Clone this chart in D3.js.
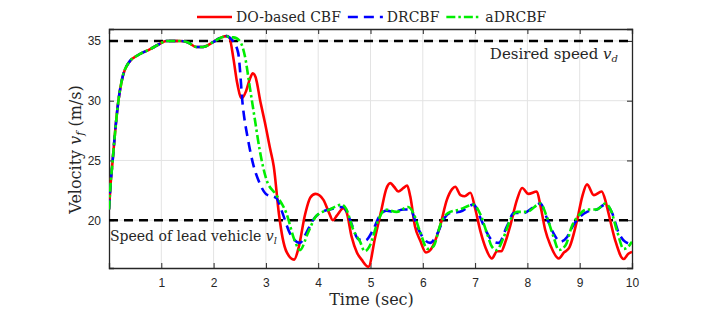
<!DOCTYPE html>
<html>
<head>
<meta charset="utf-8">
<script src="https://cdn.jsdelivr.net/npm/d3@7"></script>
<style>
  body { margin: 0; background: #fff; }
  .tick text { font-family: "Liberation Sans", Arial, sans-serif; font-size: 12px; fill: #262626; }
  .serif { font-family: "DejaVu Serif", serif; fill: #262626; }
</style>
</head>
<body>
<svg id="chart"></svg>
<script>
// shared start (all three controllers behave the same until ~2.3 s)
var startT = [0, 0.03, 0.07, 0.13, 0.18, 0.25, 0.38, 0.55, 0.78, 0.95, 1.1, 1.35, 1.5, 1.67, 1.8, 1.99, 2.15, 2.25, 2.3];
var startV = [20.9, 23.0, 25.0, 28.0, 30.0, 31.8, 33.2, 33.8, 34.3, 34.7, 35.0, 35.0, 34.9, 34.5, 34.5, 34.9, 35.3, 35.4, 35.3];

// DO-based CBF
var doT = [2.38, 2.45, 2.54, 2.62, 2.7, 2.75, 2.8, 2.9, 2.98, 3.08, 3.15, 3.25, 3.32, 3.4, 3.54, 3.62, 3.75, 3.85, 3.95, 4.1, 4.2, 4.28, 4.36, 4.48, 4.54, 4.64, 4.74, 4.83, 4.96, 5.09, 5.21, 5.3, 5.38, 5.45, 5.53, 5.63, 5.7, 5.76, 5.85, 5.95, 6.06, 6.12, 6.2, 6.33, 6.46, 6.56, 6.62, 6.72, 6.8, 6.91, 7.0, 7.1, 7.2, 7.32, 7.42, 7.5, 7.58, 7.67, 7.8, 7.9, 8.02, 8.18, 8.25, 8.34, 8.44, 8.6, 8.7, 8.8, 8.95, 9.05, 9.14, 9.27, 9.42, 9.5, 9.55, 9.68, 9.84, 9.93, 10];
var doV = [33.5, 31.5, 30.2, 30.8, 31.9, 32.3, 32.0, 29.8, 28.2, 26.0, 24.5, 20.5, 18.5, 17.3, 16.7, 17.6, 20.5, 21.9, 22.2, 21.7, 20.7, 20.0, 20.4, 21.0, 20.7, 18.6, 17.3, 16.7, 16.1, 18.6, 20.9, 22.6, 23.1, 22.8, 22.4, 22.7, 22.9, 22.0, 19.5, 18.3, 17.3, 17.4, 17.9, 19.5, 21.7, 22.6, 22.8, 22.1, 22.0, 22.3, 21.0, 19.1, 17.7, 16.8, 17.4, 17.4, 18.2, 19.5, 21.7, 22.7, 22.2, 22.4, 21.2, 19.2, 17.9, 16.8, 17.3, 17.7, 20.0, 22.0, 23.0, 22.1, 22.4, 21.5, 20.6, 18.3, 16.75, 17.2, 17.35];

// DRCBF
var drT = [2.37, 2.47, 2.56, 2.66, 2.75, 2.88, 3.0, 3.2, 3.3, 3.46, 3.65, 3.78, 3.9, 4.03, 4.22, 4.48, 4.61, 4.77, 4.9, 5.05, 5.18, 5.31, 5.44, 5.63, 5.76, 5.89, 6.01, 6.14, 6.27, 6.39, 6.52, 6.71, 6.97, 7.1, 7.22, 7.35, 7.45, 7.61, 7.74, 7.93, 8.12, 8.25, 8.37, 8.5, 8.63, 8.76, 8.88, 9.01, 9.14, 9.33, 9.49, 9.62, 9.74, 9.87, 10];
var drV = [35.0, 34.0, 29.5, 26.7, 24.8, 23.1, 22.2, 21.85, 20.8, 18.9, 18.1, 19.0, 20.0, 20.6, 20.9, 21.1, 20.0, 18.4, 18.3, 19.2, 20.4, 20.8, 20.7, 20.9, 20.9, 19.5, 18.5, 18.1, 18.8, 20.0, 20.6, 20.7, 21.3, 20.2, 19.0, 18.2, 18.1, 19.5, 20.6, 20.6, 21.1, 21.4, 20.2, 18.9, 18.2, 18.6, 19.6, 20.3, 20.7, 20.9, 21.3, 20.6, 19.0, 18.2, 18.0];

// aDRCBF
var adT = [2.38, 2.5, 2.6, 2.69, 2.79, 2.88, 3.01, 3.2, 3.39, 3.55, 3.65, 3.81, 3.97, 4.22, 4.45, 4.54, 4.67, 4.8, 4.89, 4.99, 5.15, 5.28, 5.5, 5.72, 5.82, 5.95, 6.09, 6.2, 6.35, 6.48, 6.71, 6.97, 7.1, 7.22, 7.32, 7.41, 7.54, 7.67, 7.8, 7.99, 8.25, 8.37, 8.5, 8.6, 8.73, 8.85, 8.98, 9.14, 9.33, 9.49, 9.59, 9.72, 9.84, 9.93, 10];
var adV = [35.3, 35.0, 33.7, 31.2, 28.4, 25.9, 23.4, 22.1, 20.6, 18.3, 17.5, 19.0, 20.4, 20.9, 21.3, 20.9, 19.2, 18.2, 17.4, 17.9, 20.0, 20.9, 20.7, 21.1, 20.6, 19.0, 17.6, 17.8, 19.8, 20.6, 20.9, 21.3, 20.5, 19.0, 17.8, 17.5, 18.5, 20.0, 20.7, 20.7, 21.4, 20.3, 18.6, 17.5, 17.9, 19.5, 20.4, 20.9, 20.9, 21.4, 20.9, 19.0, 17.6, 17.8, 18.2];

var xTicks = [1, 2, 3, 4, 5, 6, 7, 8, 9, 10];
var yTicks = [20, 25, 30, 35];
var desiredSpeed = 35, leadSpeed = 20;

var seriesNames = ["DO-based CBF", "DRCBF", "aDRCBF"];

function pairs(t, v) {
    return t.map(function(d, i) { return {t: d, v: v[i]}; });
}
var series = [
    {name: seriesNames[0], color: "#ff0000", dash: null, pts: pairs(startT.concat(doT), startV.concat(doV))},
    {name: seriesNames[1], color: "#0000ff", dash: "10,6", pts: pairs(startT.concat(drT), startV.concat(drV))},
    {name: seriesNames[2], color: "#00ee00", dash: "9,3,2.5,3", pts: pairs(startT.concat(adT), startV.concat(adV))}
];

var W = 718, H = 319;
var margin = {top: 29, right: 86, bottom: 51, left: 109},
    width = W - margin.left - margin.right,
    height = H - margin.top - margin.bottom;

var root = d3.select("#chart").attr("width", W).attr("height", H);
var svg = root.append("g")
    .attr("transform", "translate(" + margin.left + "," + margin.top + ")");

var x = d3.scaleLinear().domain([0, 10]).range([0, width]);
var y = d3.scaleLinear().domain([16, 36]).range([height, 0]);

// grid
svg.append("g").selectAll("line").data(xTicks.slice(0, -1)).enter().append("line")
    .attr("x1", function(d) { return x(d); }).attr("x2", function(d) { return x(d); })
    .attr("y1", 0).attr("y2", height)
    .attr("stroke", "#e3e3e3").attr("stroke-width", 1);
svg.append("g").selectAll("line").data(yTicks).enter().append("line")
    .attr("x1", 0).attr("x2", width)
    .attr("y1", function(d) { return y(d); }).attr("y2", function(d) { return y(d); })
    .attr("stroke", "#e3e3e3").attr("stroke-width", 1);

// axes (MATLAB style, ticks inside)
var xAxis = svg.append("g").attr("transform", "translate(0," + height + ")")
    .call(d3.axisBottom(x).tickValues(xTicks).tickSize(-5).tickPadding(10).tickFormat(d3.format("d")));
var yAxis = svg.append("g")
    .call(d3.axisLeft(y).tickValues(yTicks).tickSize(-5).tickPadding(8).tickFormat(d3.format("d")));
svg.append("g").call(d3.axisTop(x).tickValues(xTicks).tickSize(-5).tickFormat(""));
svg.append("g").attr("transform", "translate(" + width + ",0)")
    .call(d3.axisRight(y).tickValues(yTicks).tickSize(-5).tickFormat(""));
svg.selectAll(".domain, .tick line").attr("stroke", "#262626").attr("stroke-width", 1);
svg.selectAll(".domain").attr("stroke-width", 1.3);

// clip
root.append("defs").append("clipPath").attr("id", "clip")
    .append("rect").attr("width", width).attr("height", height);
var plot = svg.append("g").attr("clip-path", "url(#clip)");

// reference speeds
[desiredSpeed, leadSpeed].forEach(function(s) {
    plot.append("line")
        .attr("x1", 0).attr("x2", width)
        .attr("y1", y(s)).attr("y2", y(s))
        .attr("stroke", "#000").attr("stroke-width", 2.5)
        .attr("stroke-dasharray", "9,6");
});

var line = d3.line()
    .x(function(d) { return x(d.t); })
    .y(function(d) { return y(d.v); })
    .curve(d3.curveMonotoneX);

series.forEach(function(s) {
    plot.append("path")
        .datum(s.pts)
        .attr("fill", "none")
        .attr("stroke", s.color)
        .attr("stroke-width", 2.6)
        .attr("stroke-dasharray", s.dash)
        .attr("d", line);
});

// annotations
var ann1 = svg.append("text").attr("class", "serif")
    .attr("x", width - 14).attr("y", y(desiredSpeed) + 18)
    .attr("text-anchor", "end").style("font-size", "15px");
ann1.append("tspan").text("Desired speed ");
ann1.append("tspan").style("font-style", "italic").text("v");
ann1.append("tspan").attr("dy", 3).style("font-size", "10px").style("font-style", "italic").text("d");

var ann2 = svg.append("text").attr("class", "serif")
    .attr("x", 1).attr("y", y(leadSpeed) + 21)
    .style("font-size", "14px");
ann2.append("tspan").text("Speed of lead vehicle ");
ann2.append("tspan").style("font-style", "italic").text("v");
ann2.append("tspan").attr("dy", 3).style("font-size", "10px").style("font-style", "italic").text("l");

// axis labels
svg.append("text").attr("class", "serif")
    .attr("x", width / 2 + 1).attr("y", height + 37)
    .attr("text-anchor", "middle").style("font-size", "16px")
    .text("Time (sec)");

var yl = svg.append("text").attr("class", "serif")
    .attr("transform", "translate(-28," + (height / 2 + 1) + ") rotate(-90)")
    .attr("text-anchor", "middle").style("font-size", "16px");
yl.append("tspan").text("Velocity ");
yl.append("tspan").style("font-style", "italic").text("v");
yl.append("tspan").attr("dy", 3).style("font-size", "11px").style("font-style", "italic").text("f");
yl.append("tspan").attr("dy", -3).text(" (m/s)");

// legend
var legend = root.append("g").attr("transform", "translate(197,17)");
var lx = 0;
series.forEach(function(s) {
    legend.append("line")
        .attr("x1", lx).attr("x2", lx + 35)
        .attr("y1", 0).attr("y2", 0)
        .attr("stroke", s.color).attr("stroke-width", 2.6)
        .attr("stroke-dasharray", s.dash);
    var t = legend.append("text").attr("class", "serif")
        .attr("x", lx + 39).attr("y", 5)
        .style("font-size", "14px")
        .text(s.name);
    lx += 39 + t.node().getComputedTextLength() + 7;
});
</script>
</body>
</html>
